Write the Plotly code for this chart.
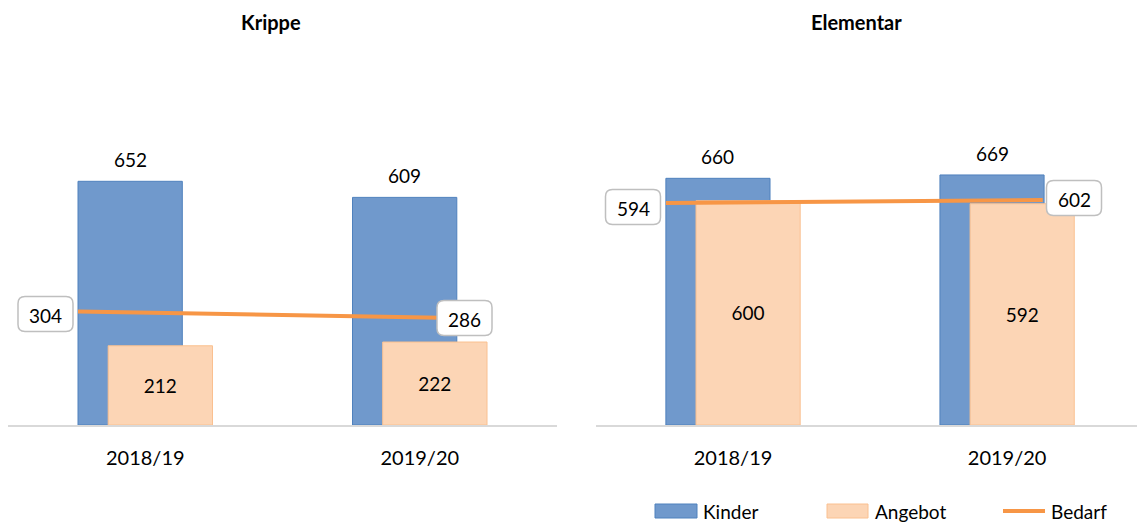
import plotly.graph_objects as go

categories = ["2018/19", "2019/20"]
krippe_kinder = [652, 609]
krippe_angebot = [212, 222]
krippe_bedarf = [304, 286]
elem_kinder = [660, 669]
elem_angebot = [600, 592]
elem_bedarf = [594, 602]

W, H = 1137, 525
FONT = "Lato"
KINDER_FILL = "#7099CC"
KINDER_LINE = "#4F81BD"
ANG_FILL = "#FCD5B5"
ANG_LINE = "#FAC090"
BEDARF = "#F79646"

xpos = [0, 1]
fig = go.Figure()
ann = []
shapes = []

def px(x):
    return x / W

def py(y):
    return 1 - y / H

def add_panel(kinder, angebot, bedarf, xa, ya):
    fig.add_trace(go.Bar(x=xpos, y=kinder, name="Kinder", offset=-0.245, width=0.38,
                         marker=dict(color=KINDER_FILL, line=dict(color=KINDER_LINE, width=1)),
                         xaxis=xa, yaxis=ya, showlegend=False))
    fig.add_trace(go.Bar(x=xpos, y=angebot, name="Angebot", offset=-0.135, width=0.38,
                         marker=dict(color=ANG_FILL, line=dict(color=ANG_LINE, width=1)),
                         text=[str(v) for v in angebot], textposition="inside",
                         insidetextanchor="middle",
                         textfont=dict(family=FONT, size=19, color="#000"),
                         xaxis=xa, yaxis=ya, showlegend=False))
    fig.add_trace(go.Scatter(x=[-0.245, 1.13], y=bedarf, mode="lines", name="Bedarf",
                             line=dict(color=BEDARF, width=4), xaxis=xa, yaxis=ya,
                             showlegend=False))
    for xi, v in zip(xpos, kinder):
        ann.append(dict(text=str(v), x=xi - 0.055, y=v, xref=xa, yref=ya, showarrow=False,
                        yanchor="bottom", yshift=8,
                        font=dict(family=FONT, size=19, color="#000")))

add_panel(krippe_kinder, krippe_angebot, krippe_bedarf, "x", "y")
add_panel(elem_kinder, elem_angebot, elem_bedarf, "x2", "y2")

ydom = [py(425), py(126)]
axis_common = dict(showgrid=False, zeroline=False, showline=True, linecolor="#D9D9D9",
                   linewidth=2, ticks="", tickvals=xpos, ticktext=categories,
                   tickfont=dict(family=FONT, size=20, color="#000"))
fig.update_layout(
    width=W, height=H, margin=dict(l=0, r=0, t=0, b=0),
    paper_bgcolor="white", plot_bgcolor="white", barmode="overlay",
    xaxis=dict(domain=[px(8), px(557)], range=[-0.5, 1.5], **axis_common),
    xaxis2=dict(domain=[px(596), 1.0], range=[-0.5, 1.474], **axis_common),
    yaxis=dict(domain=ydom, range=[0, 800], visible=False),
    yaxis2=dict(domain=ydom, range=[0, 800], visible=False, anchor="x2"),
    font=dict(family=FONT, color="#000"),
)
fig.update_xaxes(ticklabelstandoff=14)

ann.append(dict(text="<b>Krippe</b>", x=px(271), y=py(22), xref="paper", yref="paper",
                xanchor="center", yanchor="middle", showarrow=False,
                font=dict(family=FONT, size=20, color="#000")))
ann.append(dict(text="<b>Elementar</b>", x=px(856), y=py(22), xref="paper", yref="paper",
                xanchor="center", yanchor="middle", showarrow=False,
                font=dict(family=FONT, size=20, color="#000")))

def rounded_box(cx, cy, w, h, r):
    x0, x1, y0, y1 = cx - w / 2, cx + w / 2, cy - h / 2, cy + h / 2
    pts = [
        ("M", x0 + r, y0), ("L", x1 - r, y0), ("Q", x1, y0, x1, y0 + r),
        ("L", x1, y1 - r), ("Q", x1, y1, x1 - r, y1), ("L", x0 + r, y1),
        ("Q", x0, y1, x0, y1 - r), ("L", x0, y0 + r), ("Q", x0, y0, x0 + r, y0),
    ]
    parts = []
    for p in pts:
        cmd = p[0]
        coords = p[1:]
        s = []
        for i in range(0, len(coords), 2):
            s.append(f"{px(coords[i]):.5f},{py(coords[i + 1]):.5f}")
        parts.append(cmd + " " + " ".join(s))
    return " ".join(parts) + " Z"

def label(cx, cy, val):
    shapes.append(dict(type="path", xref="paper", yref="paper", layer="above",
                       path=rounded_box(cx, cy, 55, 35, 7), fillcolor="white",
                       line=dict(color="#BFBFBF", width=1.5)))
    ann.append(dict(text=str(val), x=px(cx), y=py(cy + 1), xref="paper", yref="paper",
                    showarrow=False, xanchor="center", yanchor="middle",
                    font=dict(family=FONT, size=19, color="#000")))

label(45.5, 314, krippe_bedarf[0])
label(464.5, 318, krippe_bedarf[1])
label(633, 207, elem_bedarf[0])
label(1074, 198, elem_bedarf[1])

# custom legend
ly = 511
shapes.append(dict(type="rect", xref="paper", yref="paper", x0=px(655), x1=px(697),
                   y0=py(ly + 7), y1=py(ly - 7), fillcolor=KINDER_FILL,
                   line=dict(color=KINDER_LINE, width=1)))
shapes.append(dict(type="rect", xref="paper", yref="paper", x0=px(827), x1=px(868),
                   y0=py(ly + 7), y1=py(ly - 7), fillcolor=ANG_FILL,
                   line=dict(color=ANG_LINE, width=1)))
shapes.append(dict(type="line", xref="paper", yref="paper", x0=px(1003), x1=px(1045),
                   y0=py(ly), y1=py(ly), line=dict(color=BEDARF, width=4)))
for name, x in [("Kinder", 701), ("Angebot", 873), ("Bedarf", 1049)]:
    ann.append(dict(text=name, x=px(x), y=py(ly), xref="paper", yref="paper", xanchor="left",
                    yanchor="middle", showarrow=False,
                    font=dict(family=FONT, size=19, color="#000")))

fig.update_layout(annotations=ann, shapes=shapes)
fig.write_html("out.html", config={"displayModeBar": False},
               post_script="document.body.style.margin='0';")
